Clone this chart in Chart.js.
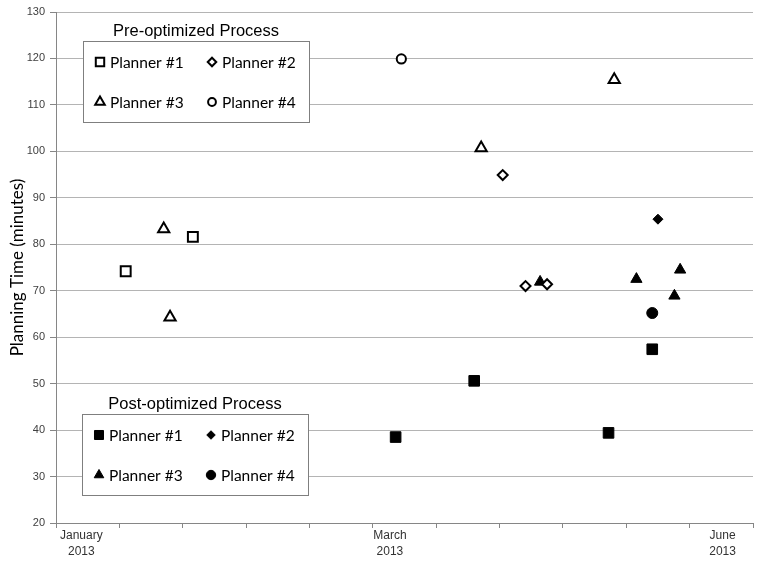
<!DOCTYPE html>
<html>
<head>
<meta charset="utf-8">
<script src="https://cdn.jsdelivr.net/npm/chart.js@4.4.1/dist/chart.umd.min.js"></script>
<style>
    html, body { margin: 0; padding: 0; background: #ffffff; }
    #wrap { position: relative; width: 762px; height: 566px; }
</style>
</head>
<body>
<div id="wrap"><canvas id="planningChart" width="762" height="566"></canvas></div>
<script>
// x values are in axis tick units: January 2013 = 0, March = 5, June = 10, axis ends at 11
const xMin = 0;
const xMax = 11;
const xTickLabels = [['January', '2013'], ['March', '2013'], ['June', '2013']];
const xTickLabelPos = [0.4, 5.27, 10.52];
const yMin = 20;
const yMax = 130;
const yStep = 10;

const plannerNames = ['Planner #1', 'Planner #2', 'Planner #3', 'Planner #4'];
const preTitle = 'Pre-optimized Process';
const postTitle = 'Post-optimized Process';

// pre-optimized (hollow markers)
const preP1X = [1.10, 2.16];
const preP1Y = [74.2, 81.6];
const preP2X = [7.05, 7.41, 7.75];
const preP2Y = [94.9, 71.0, 71.4];
const preP3X = [1.70, 1.80, 6.71, 8.81];
const preP3Y = [83.3, 64.3, 100.7, 115.4];
const preP4X = [5.45];
const preP4Y = [119.9];

// post-optimized (filled markers)
const postP1X = [5.36, 6.60, 8.72, 9.41];
const postP1Y = [38.5, 50.6, 39.4, 57.4];
const postP2X = [9.50];
const postP2Y = [85.4];
const postP3X = [7.64, 9.16, 9.76, 9.85];
const postP3Y = [71.9, 72.5, 68.9, 74.5];
const postP4X = [9.41];
const postP4Y = [65.2];

const styles = ['rect', 'rectRot', 'triangle', 'circle'];
const hollowRadius = [7, 5, 6.5, 4.6];
const filledRadius = [7.5, 5, 6.5, 5.5];

function toPoints(xs, ys) {
    return xs.map((x, i) => ({ x: x, y: ys[i] }));
}

function makeSet(label, xs, ys, idx, filled) {
    return {
        label: label,
        data: toPoints(xs, ys),
        pointStyle: styles[idx],
        pointRadius: filled ? filledRadius[idx] : hollowRadius[idx],
        pointHoverRadius: filled ? filledRadius[idx] : hollowRadius[idx],
        backgroundColor: filled ? '#000000' : '#ffffff',
        borderColor: '#000000',
        borderWidth: filled ? 1 : 2,
        showLine: false
    };
}

const datasets = [
    makeSet(plannerNames[0], preP1X, preP1Y, 0, false),
    makeSet(plannerNames[1], preP2X, preP2Y, 1, false),
    makeSet(plannerNames[2], preP3X, preP3Y, 2, false),
    makeSet(plannerNames[3], preP4X, preP4Y, 3, false),
    makeSet(plannerNames[0], postP1X, postP1Y, 0, true),
    makeSet(plannerNames[1], postP2X, postP2Y, 1, true),
    makeSet(plannerNames[2], postP3X, postP3Y, 2, true),
    makeSet(plannerNames[3], postP4X, postP4Y, 3, true)
];

// draws one boxed legend (title above the box, 2x2 entries inside)
function drawLegendBox(ctx, left, top, title, sets) {
    const w = 226;
    const h = 81;
    ctx.save();
    ctx.fillStyle = '#ffffff';
    ctx.fillRect(left, top, w, h);
    ctx.strokeStyle = '#7f7f7f';
    ctx.lineWidth = 1;
    ctx.strokeRect(left + 0.5, top + 0.5, w, h);

    ctx.fillStyle = '#000000';
    ctx.font = '16.5px "Liberation Sans", Arial, sans-serif';
    ctx.textAlign = 'center';
    ctx.textBaseline = 'middle';
    ctx.fillText(title, left + w / 2, top - 10);

    ctx.font = '15.5px Lato, "Liberation Sans", sans-serif';
    ctx.textAlign = 'left';
    sets.forEach((ds, i) => {
        const col = i % 2;
        const row = Math.floor(i / 2);
        const mx = left + 17 + col * 112;
        const my = top + 21 + row * 40;
        ctx.fillStyle = ds.backgroundColor;
        ctx.strokeStyle = ds.borderColor;
        ctx.lineWidth = ds.borderWidth;
        Chart.helpers.drawPoint(ctx, {
            pointStyle: ds.pointStyle,
            radius: ds.pointRadius * 0.85,
            rotation: 0,
            borderWidth: ds.borderWidth
        }, mx, my);
        ctx.fillStyle = '#000000';
        ctx.fillText(ds.label, mx + 10, my + 1);
    });
    ctx.restore();
}

const legendPlugin = {
    id: 'processLegends',
    afterDatasetsDraw(chart) {
        const a = chart.chartArea;
        const sets = chart.data.datasets;
        drawLegendBox(chart.ctx, a.left + 27, a.top + 29, preTitle, sets.slice(0, 4));
        drawLegendBox(chart.ctx, a.left + 26, a.top + 402, postTitle, sets.slice(4, 8));
    }
};

const ctx = document.getElementById('planningChart').getContext('2d');
new Chart(ctx, {
    type: 'scatter',
    data: { datasets: datasets },
    plugins: [legendPlugin],
    options: {
        responsive: false,
        animation: false,
        layout: { padding: { left: 0, top: 12, right: 9, bottom: 0 } },
        plugins: {
            legend: { display: false },
            tooltip: { enabled: false }
        },
        scales: {
            x: {
                type: 'linear',
                position: 'bottom',
                weight: 0,
                min: xMin,
                max: xMax,
                grid: { drawOnChartArea: false, drawTicks: true, tickLength: 5, color: '#868686' },
                border: { color: '#868686', width: 1 },
                ticks: { display: false, stepSize: 1, autoSkip: false },
                afterFit: (scale) => { scale.height = 6; }
            },
            xLabels: {
                type: 'linear',
                position: 'bottom',
                weight: 1,
                min: xMin,
                max: xMax,
                grid: { display: false },
                border: { display: false },
                afterBuildTicks: (axis) => {
                    axis.ticks = xTickLabelPos.map(v => ({ value: v }));
                },
                ticks: {
                    autoSkip: false,
                    maxRotation: 0,
                    padding: -9,
                    color: '#333333',
                    font: { family: '"Liberation Sans", Arial, sans-serif', size: 12, lineHeight: 1.3 },
                    callback: (value, index) => xTickLabels[index]
                },
                afterFit: (scale) => { scale.height = 37; }
            },
            y: {
                min: yMin,
                max: yMax,
                grid: { color: '#b4b4b4', tickColor: '#868686', tickLength: 6 },
                border: { color: '#868686', width: 1 },
                ticks: {
                    stepSize: yStep,
                    padding: 5,
                    color: '#404040',
                    font: { family: '"Liberation Sans", Arial, sans-serif', size: 11 }
                },
                title: {
                    display: true,
                    text: 'Planning Time (minutes)',
                    color: '#000000',
                    padding: { top: 7, bottom: 0 },
                    font: { family: 'Lato, "Liberation Sans", sans-serif', size: 17 }
                },
                afterFit: (scale) => { scale.width = 56; }
            }
        }
    }
});
</script>
</body>
</html>
